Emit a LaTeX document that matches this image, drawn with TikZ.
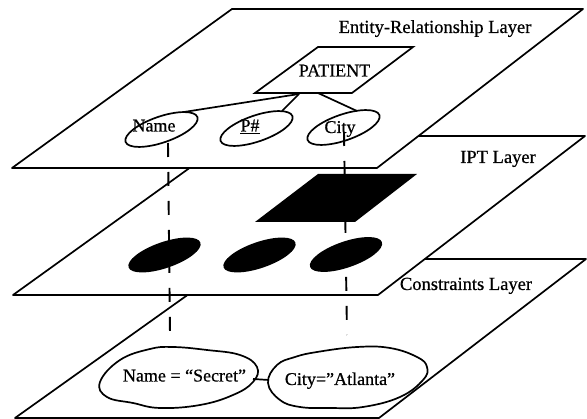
\documentclass[tikz,border=0pt]{standalone}
\usepackage{fontspec}
\setmainfont{Liberation Serif}[FakeBold=0.6]
\usetikzlibrary{shapes.geometric}

\begin{document}
\begin{tikzpicture}[x=1pt,y=-1pt,
  plane/.style={draw, fill=white, line width=1.7pt, line join=round},
  attr/.style={ellipse, draw, line width=1.7pt, minimum width=76pt,
    minimum height=26pt, inner sep=0pt, rotate=19},
  cell/.style={ellipse, fill=black, minimum width=76pt,
    minimum height=26pt, inner sep=0pt, rotate=19},
  lbl/.style={font=\fontsize{18.5}{21}\selectfont, anchor=base, inner sep=0pt},
  txt/.style={font=\fontsize{18}{20}\selectfont, anchor=base, inner sep=0pt},
  link/.style={line width=1.7pt},
  trace/.style={line width=1.9pt, dash pattern=on 14pt off 15pt},
]
\useasboundingbox (0,0) rectangle (587,419);

% the three stacked layers, lowest first
\draw[plane] (15,418) -- (379,418) -- (586,259) -- (238,259) -- cycle;
\draw[plane] (13,295) -- (378,295) -- (585,136) -- (234,136) -- cycle;
\draw[plane] (12,168) -- (377,168) -- (583,9) -- (232,9) -- cycle;

% layer titles
\node[lbl] (erL)  at (435,33)  {Entity-Relationship Layer};
\node[lbl] (iptL) at (498,163) {IPT Layer};
\node[lbl] (conL) at (466,290) {Constraints Layer};

% entity and its attributes
\draw[link, line join=miter] (255,93) -- (352,93) -- (413,47) -- (318,47) -- cycle;
\node[txt] (patient) at (334.5,76.5) {PATIENT};
\coordinate (pA) at (299,94);
\coordinate (pB) at (318,93);

\node[attr] (nameE) at (161.5,129.5) {};
\node[attr] (pE)    at (256.5,128.5) {};
\node[attr] (cityE) at (343.5,127.5) {};
\node[txt] (nameT) at (154,131.5) {Name};
\node[txt] (pT)    at (250,131.5) {\underline{P\#}};
\node[txt] (cityT) at (340,133)   {City};

\coordinate (nameTop) at (184,112);
\coordinate (pTop)    at (282,111);
\coordinate (cityTop) at (357,111);
\draw[link] (pA) -- (nameTop);
\draw[link] (pA) -- (pTop);
\draw[link] (pB) -- (cityTop);

% IPT cells
\fill (255,222) -- (355,222) -- (417,174) -- (318,174) -- cycle;
\node[cell] (c1) at (164.5,255) {};
\node[cell] (c2) at (259.5,255) {};
\node[cell] (c3) at (346,254.5) {};

% constraints
\draw[link] plot[smooth cycle, tension=0.7] coordinates {(100,382) (120,360) (150,349)
  (173,347) (207,350) (240,355) (257,367) (253,382) (233,395) (200,405) (160,408)
  (133,403) (107,397)};
\draw[link] plot[smooth cycle, tension=0.7] coordinates {(268,383) (277,365) (295,357)
  (317,352) (357,347) (390,348) (417,357) (427,367) (423,380) (400,397) (363,407)
  (330,408) (300,407) (280,400)};
\node[txt] (secret)  at (184.5,381.5) {Name = “Secret”};
\node[txt] (atlanta) at (340,385)     {City="Atlanta"};
\coordinate (sE) at (253,379);
\coordinate (aW) at (269,380);
\draw[link] (sE) -- (aW);

% vertical traces through the layers
\coordinate (nameDown) at (168,143);
\coordinate (nameEnd)  at (170,335);
\coordinate (cityDown) at (344,132);
\coordinate (cityEnd)  at (347,335);
\draw[trace] (nameDown) -- (nameEnd);
\draw[trace] (cityDown) -- (cityEnd);
\end{tikzpicture}
\end{document}
